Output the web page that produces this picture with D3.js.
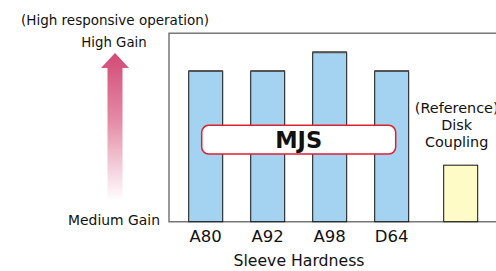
<!DOCTYPE html>
<html>
<head>
<meta charset="utf-8">
<script src="https://cdn.jsdelivr.net/npm/d3@7"></script>
<style>
  body { margin: 0; background: #fff; }
  svg { display: block; font-family: "DejaVu Sans", sans-serif; }
</style>
</head>
<body>
<svg width="496" height="271"></svg>
<script>
// Gain by sleeve hardness (relative, 0-100)
const categories = ['A80', 'A92', 'A98', 'D64'];
const gainValues = [80, 80, 90, 80];
const refCategory = 'Reference';
const refValue = 30;
const refLabel = ['(Reference)', 'Disk', 'Coupling'];

const svg = d3.select('svg');
const margin = { top: 33.3, bottom: 49.3, left: 169 };
const width = 496;
const height = 271;
const innerHeight = height - margin.top - margin.bottom;

const xScale = d3.scaleBand()
    .domain([...categories, refCategory])
    .range([0, 321.4])
    .paddingInner(0.4516)
    .paddingOuter(0.318);

// the reference bar sits a little further right than its slot
const refShift = 7;

const yScale = d3.scaleLinear()
    .domain([0, 100])
    .range([innerHeight, 0]);

const defs = svg.append('defs');
const grad = defs.append('linearGradient')
    .attr('id', 'arrowGrad')
    .attr('x1', 0).attr('y1', 0).attr('x2', 0).attr('y2', 1);
grad.append('stop').attr('offset', '0%').attr('stop-color', '#d24a76');
grad.append('stop').attr('offset', '45%').attr('stop-color', '#e48aa6');
grad.append('stop').attr('offset', '100%').attr('stop-color', '#ffffff');

// Gain arrow on the left
const ax = 115, tipY = 53, headY = 68, baseY = 201;
svg.append('path')
    .attr('d', `M${ax},${tipY} L${ax + 14},${headY} L${ax + 7.5},${headY} L${ax + 7.5},${baseY}
                L${ax - 7.5},${baseY} L${ax - 7.5},${headY} L${ax - 14},${headY} Z`)
    .attr('fill', 'url(#arrowGrad)');

svg.append('text')
    .attr('x', 21).attr('y', 25)
    .attr('font-size', 13.5)
    .attr('fill', '#111')
    .text('(High responsive operation)');

svg.append('text')
    .attr('x', 114).attr('y', 47.3)
    .attr('text-anchor', 'middle')
    .attr('font-size', 13.3)
    .attr('fill', '#111')
    .text('High Gain');

svg.append('text')
    .attr('x', 160).attr('y', 225)
    .attr('text-anchor', 'end')
    .attr('font-size', 13.9)
    .attr('fill', '#111')
    .text('Medium Gain');

const g = svg.append('g')
    .attr('transform', `translate(${margin.left},${margin.top})`);

// Frame (top, left, bottom)
g.append('path')
    .attr('d', `M${width},0 H0 V${innerHeight} H${width}`)
    .attr('fill', 'none')
    .attr('stroke', '#777')
    .attr('stroke-width', 1.5);

const bars = g.selectAll('.bar')
    .data(categories.map((c, i) => ({ cat: c, value: gainValues[i] })))
    .join('g')
    .attr('class', 'bar');

bars.append('rect')
    .attr('x', d => xScale(d.cat))
    .attr('y', d => yScale(d.value))
    .attr('width', xScale.bandwidth())
    .attr('height', d => innerHeight - yScale(d.value))
    .attr('fill', '#a4d3f1')
    .attr('stroke', '#111')
    .attr('stroke-width', 1);

bars.append('line')
    .attr('x1', d => xScale(d.cat))
    .attr('x2', d => xScale(d.cat) + xScale.bandwidth())
    .attr('y1', d => yScale(d.value))
    .attr('y2', d => yScale(d.value))
    .attr('stroke', '#555')
    .attr('stroke-width', 2);

// Reference bar
const refX = xScale(refCategory) + refShift;
g.append('rect')
    .attr('x', refX)
    .attr('y', yScale(refValue))
    .attr('width', xScale.bandwidth())
    .attr('height', innerHeight - yScale(refValue))
    .attr('fill', '#fffbc6')
    .attr('stroke', '#111')
    .attr('stroke-width', 1);

const refTextX = refX + xScale.bandwidth() / 2 - 4;
g.append('text')
    .attr('y', 80)
    .attr('text-anchor', 'middle')
    .attr('font-size', 14.4)
    .attr('fill', '#111')
    .selectAll('tspan')
    .data(refLabel)
    .join('tspan')
    .attr('x', refTextX)
    .attr('dy', (d, i) => i === 0 ? 0 : 17)
    .text(d => d);

// Category labels
const xAxis = d3.axisBottom(xScale).tickSize(0).tickPadding(9)
    .tickFormat(d => d === refCategory ? '' : d);
const axisG = g.append('g')
    .attr('transform', `translate(0,${innerHeight})`)
    .call(xAxis);
axisG.select('.domain').remove();
axisG.selectAll('text')
    .attr('font-family', '"DejaVu Sans", sans-serif')
    .attr('font-size', 16.5)
    .attr('dy', '0.71em')
    .attr('fill', '#111');

svg.append('text')
    .attr('x', 299).attr('y', 265.7)
    .attr('text-anchor', 'middle')
    .attr('font-size', 15.7)
    .attr('fill', '#111')
    .text('Sleeve Hardness');

// MJS label box across the MJS bars
const boxX0 = xScale(categories[0]) + 13;
const boxX1 = xScale(categories[categories.length - 1]) + xScale.bandwidth() - 13;
g.append('rect')
    .attr('x', boxX0)
    .attr('y', 92)
    .attr('width', boxX1 - boxX0)
    .attr('height', 28.7)
    .attr('rx', 7)
    .attr('fill', '#fff')
    .attr('stroke', '#e0202e')
    .attr('stroke-width', 1.5);

g.append('text')
    .attr('x', (boxX0 + boxX1) / 2)
    .attr('y', 115)
    .attr('text-anchor', 'middle')
    .attr('font-size', 22.5)
    .attr('font-weight', 'bold')
    .attr('fill', '#111')
    .text('MJS');
</script>
</body>
</html>
